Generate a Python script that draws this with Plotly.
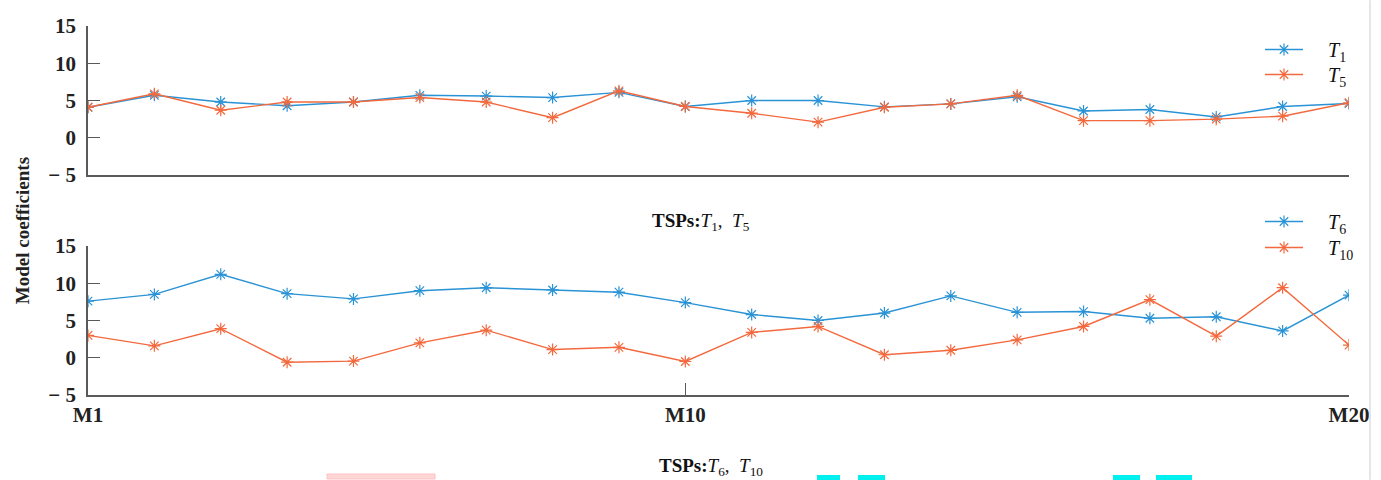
import plotly.graph_objects as go

models = [f"M{i}" for i in range(1, 21)]
x_idx = list(range(1, 21))

t1 = [4.1, 5.7, 4.8, 4.3, 4.8, 5.7, 5.6, 5.4, 6.1, 4.2, 5.0, 5.0, 4.15, 4.55, 5.5, 3.6, 3.8, 2.8, 4.2, 4.6]
t5 = [4.1, 5.9, 3.7, 4.8, 4.8, 5.4, 4.8, 2.7, 6.3, 4.2, 3.3, 2.1, 4.1, 4.55, 5.7, 2.3, 2.3, 2.5, 2.9, 4.7]
t6 = [7.6, 8.5, 11.2, 8.6, 7.9, 9.0, 9.4, 9.1, 8.8, 7.4, 5.8, 5.0, 6.0, 8.3, 6.1, 6.2, 5.3, 5.5, 3.6, 8.4]
t10 = [3.0, 1.6, 3.9, -0.6, -0.45, 2.0, 3.7, 1.1, 1.4, -0.5, 3.4, 4.2, 0.4, 1.0, 2.4, 4.2, 7.8, 2.9, 9.4, 1.7]

series_names = ["<i>T</i><sub>1</sub>", "<i>T</i><sub>5</sub>", "<i>T</i><sub>6</sub>", "<i>T</i><sub>10</sub>"]

y_tickvals = [-5, 0, 5, 10, 15]
y_ticktext = ["\u2212 5", "0", "5", "10", "15"]
x_tickvals = [1, 10, 20]
x_ticktext = ["M1", "M10", "M20"]

BLUE = "#2a93d5"
ORANGE = "#f3693d"
AX = "#5a5a5a"
SERIF = "Liberation Serif"
PAD = "\u00a0" * 4

def trace(y, name, color, xa, ya, legend):
    return go.Scatter(
        x=x_idx, y=y, name=PAD + name, mode="lines+markers",
        line=dict(color=color, width=1.4),
        marker=dict(symbol="asterisk-open", size=10, color=color, line=dict(color=color, width=1.2)),
        xaxis=xa, yaxis=ya, legend=legend,
    )

fig = go.Figure()
fig.add_trace(trace(t1, series_names[0], BLUE, "x", "y", "legend"))
fig.add_trace(trace(t5, series_names[1], ORANGE, "x", "y", "legend2"))
fig.add_trace(trace(t6, series_names[2], BLUE, "x2", "y2", "legend3"))
fig.add_trace(trace(t10, series_names[3], ORANGE, "x2", "y2", "legend4"))

yax = dict(range=[-5, 15], tickvals=y_tickvals, ticktext=y_ticktext,
           showline=True, linecolor=AX, linewidth=1.5, ticks="inside", ticklen=12,
           tickcolor=AX, tickwidth=1.2, showgrid=False, zeroline=False,
           tickfont=dict(family=SERIF, size=21, color="#222", weight="bold"), ticklabelstandoff=6)

def leg(ytop):
    return dict(x=(1260 - 88) / 1261, y=(395 - ytop) / 369, xanchor="left", yanchor="top",
                bgcolor="rgba(0,0,0,0)", itemwidth=38,
                font=dict(family=SERIF, size=20, color="#111"))

fig.update_layout(
    width=1381, height=480,
    margin=dict(l=88, r=32, t=26, b=85),
    paper_bgcolor="white", plot_bgcolor="white",
    xaxis=dict(domain=[0, 1], range=[1, 20], anchor="y", showline=True, linecolor=AX, linewidth=1.5,
               ticks="", showticklabels=False, showgrid=False, zeroline=False),
    yaxis=dict(domain=[0.596, 1], anchor="x", **yax),
    xaxis2=dict(domain=[0, 1], range=[1, 20], anchor="y2", showline=True, linecolor=AX, linewidth=1.5,
                tickvals=x_tickvals, ticktext=x_ticktext, ticks="inside", ticklen=12, tickcolor=AX,
                tickwidth=1.2, showgrid=False, zeroline=False,
                tickfont=dict(family=SERIF, size=21, color="#222", weight="bold")),
    yaxis2=dict(domain=[0, 0.4038], anchor="x2", **yax),
    legend=leg(30),
    legend2=leg(55),
    legend3=leg(202),
    legend4=leg(228),
    showlegend=True,
)

fig.add_annotation(text="<b>Model coefficients</b>", textangle=-90, xref="paper", yref="paper",
                   x=(22 - 88) / 1261, y=0.444, xanchor="center", yanchor="middle", showarrow=False,
                   font=dict(family=SERIF, size=19, color="#222"))
fig.add_annotation(text="<b>TSPs:</b><i>T</i><sub>1</sub>,  <i>T</i><sub>5</sub>", xref="paper", yref="paper",
                   x=0.486, y=0.469, xanchor="center", showarrow=False, font=dict(family=SERIF, size=19, color="#111"))
fig.add_annotation(text="<b>TSPs:</b><i>T</i><sub>6</sub>,  <i>T</i><sub>10</sub>", xref="paper", yref="paper",
                   x=0.494, y=-0.233, xanchor="center", showarrow=False, font=dict(family=SERIF, size=19, color="#111"))

# decorative artifacts along the bottom edge and right border
fig.add_shape(type="line", xref="paper", yref="paper", x0=(1370 - 88) / 1261, x1=(1370 - 88) / 1261,
              y0=-0.23, y1=1.07, line=dict(color="#e6e6e6", width=2))
fig.add_shape(type="rect", xref="paper", yref="paper", x0=(327 - 88) / 1261, x1=(435 - 88) / 1261,
              y0=(395 - 479) / 369, y1=(395 - 474) / 369, fillcolor="#ffd6d6", line=dict(color="#ffc0c0", width=1))
for a, b in [(817, 840), (858, 885), (1113, 1140), (1156, 1192)]:
    fig.add_shape(type="rect", xref="paper", yref="paper", x0=(a - 88) / 1261, x1=(b - 88) / 1261,
                  y0=(395 - 480) / 369, y1=(395 - 475) / 369, fillcolor="#00f0f0", line=dict(width=0))

fig.write_html("out.html", post_script="document.body.style.margin='0';",
               config={"displayModeBar": False})
